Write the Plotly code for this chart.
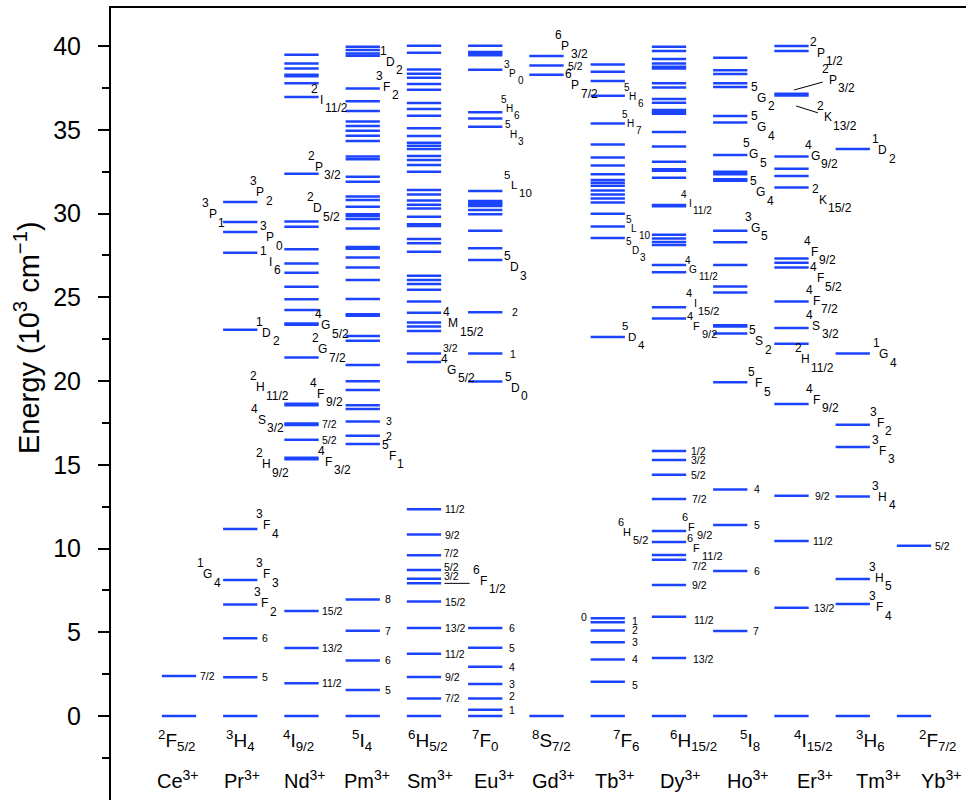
import plotly.graph_objects as go

# ---------------- data ----------------
ions = ["Ce", "Pr", "Nd", "Pm", "Sm", "Eu", "Gd", "Tb", "Dy", "Ho", "Er", "Tm", "Yb"]
ground_terms = [("2", "F", "5/2"), ("3", "H", "4"), ("4", "I", "9/2"), ("5", "I", "4"),
                ("6", "H", "5/2"), ("7", "F", "0"), ("8", "S", "7/2"), ("7", "F", "6"),
                ("6", "H", "15/2"), ("5", "I", "8"), ("4", "I", "15/2"), ("3", "H", "6"),
                ("2", "F", "7/2")]

# energy levels (10^3 cm^-1)
ce = [0, 2.39]
pr = [0, 2.31, 4.64, 6.65, 8.12, 11.16, 23.06, 27.66, 28.9, 29.49, 30.69]
nd = [0, 1.95, 4.06, 6.27, 15.33, 15.42, 16.49, 17.38, 17.46, 18.56, 18.64, 21.41,
      23.36, 23.44, 24.24, 24.88, 25.63, 26.47, 27.02, 27.86, 29.21, 29.53, 32.38,
      36.96, 37.77, 38.2, 38.28, 38.66, 38.96, 39.48]
pm = [0, 1.55, 3.32, 5.09, 6.96, 16.24, 16.73, 17.59, 18.33, 18.55, 19.46, 19.98,
      20.96, 22.41, 22.69, 23.9, 23.98, 24.9, 26.03, 26.77, 27.38, 27.9, 28.0, 29.1,
      29.67, 29.85, 29.95, 30.41, 30.81, 31.02, 31.9, 32.2, 33.24, 33.4, 34.33, 34.65,
      34.94, 35.22, 35.5, 36.12, 36.7, 37.46, 39.42, 39.56, 39.76, 39.96]
sm = [0, 1.05, 2.33, 3.72, 5.25, 6.83, 7.92, 8.2, 8.72, 9.6, 10.83, 12.34, 21.14,
      21.64, 22.99, 23.25, 23.5, 24.08, 24.74, 25.45, 25.79, 26.03, 26.29, 27.72,
      28.22, 28.48, 29.26, 29.36, 29.81, 30.3, 30.53, 30.77, 31.14, 31.4, 32.5, 32.9,
      33.19, 33.43, 33.85, 34.05, 34.23, 34.63, 35.09, 35.84, 36.24, 36.6, 37.39,
      37.73, 38.1, 38.35, 38.6, 39.6, 40.02]
eu = [0, 0.38, 1.05, 1.91, 2.94, 4.08, 5.25, 19.97, 21.64, 24.11, 27.22, 27.92,
      28.97, 29.95, 30.21, 30.45, 30.55, 30.65, 30.75, 31.34, 35.18, 35.68, 36.04,
      38.58, 39.45, 39.55, 39.65, 40.02]
gd = [0, 38.29, 38.83, 39.4]
tb = [0, 2.05, 3.38, 4.4, 5.11, 5.59, 5.83, 22.63, 28.54, 29.23, 29.99, 30.66, 30.9,
      31.14, 31.38, 31.66, 31.84, 32.0, 32.34, 32.87, 33.35, 34.12, 35.37, 37.03,
      37.91, 38.47, 38.9]
dy = [0, 3.46, 5.93, 7.82, 9.33, 9.61, 10.39, 11.04, 12.96, 14.41, 15.28, 15.82,
      23.73, 24.4, 26.49, 26.93, 28.12, 28.3, 28.51, 28.73, 30.43, 30.51, 32.14,
      32.55, 32.65, 33.09, 34.0, 34.87, 35.95, 36.05, 36.18, 36.62, 36.84, 37.53,
      37.77, 38.66, 38.76, 38.96, 39.22, 39.7, 39.96]
ho = [0, 5.07, 8.66, 11.4, 13.53, 19.92, 22.83, 23.25, 23.33, 25.28, 25.65, 26.93,
      28.28, 28.97, 31.95, 32.05, 32.35, 32.5, 33.49, 35.43, 35.82, 37.55, 37.77,
      38.33, 38.55, 39.3]
er = [0, 6.47, 10.45, 13.15, 18.63, 22.23, 23.16, 24.75, 26.78, 27.06, 27.32, 31.56,
      32.24, 32.67, 33.4, 37.05, 37.15, 39.7, 40.0]
tm = [0, 6.69, 8.18, 13.1, 16.06, 17.39, 21.64, 33.85]
yb = [0, 10.17]

levels = [ce, pr, nd, pm, sm, eu, gd, tb, dy, ho, er, tm, yb]

# term labels: (ion index, level energy, multiplicity, L, J)  + placement (dx, dy px, size)
term_labels = [
    (1, 8.12, "1", "G", "4", -49.5, -6, 12),
    (1, 8.12, "3", "F", "3", 9.5, -6, 12),
    (1, 6.65, "3", "F", "2", 7, -1.3, 12),
    (1, 11.16, "3", "F", "4", 9.5, -4, 12),
    (1, 23.06, "1", "D", "2", 9.5, 3, 12),
    (1, 27.66, "1", "I", "6", 13, 9, 12),
    (1, 28.9, "3", "P", "0", 13, 5.3, 12),
    (1, 29.49, "3", "P", "1", -44.5, -8, 12),
    (1, 30.69, "3", "P", "2", 3, -9.7, 12),
    (2, 15.36, "2", "H", "9/2", -52.5, 5.3, 12),
    (2, 17.41, "4", "S", "3/2", -56.8, -4.4, 12),
    (2, 18.6, "2", "H", "11/2", -58.5, -17, 12),
    (2, 15.36, "4", "F", "3/2", 9.8, 3, 12),
    (2, 18.6, "4", "F", "9/2", 2.2, -10.5, 12),
    (2, 21.41, "2", "G", "7/2", 4.2, -8, 12),
    (2, 23.4, "4", "G", "5/2", 7.2, 1, 12),
    (2, 29.53, "2", "D", "5/2", -1.2, -13, 12),
    (2, 32.38, "2", "P", "3/2", 0, -7, 12),
    (2, 36.96, "2", "I", "11/2", 3.2, 3, 12),
    (3, 16.24, "5", "F", "1", 12.3, 11.7, 12),
    (3, 37.46, "3", "F", "2", 7, -2, 12),
    (3, 39.96, "1", "D", "2", 10.3, 15, 12),
    (4, 7.92, "6", "F", "1/2", 42.3, -2.6, 12),
    (4, 21.14, "4", "G", "5/2", 10.7, 8, 12),
    (4, 23.25, "4", "M", "15/2", 12.3, -3.3, 12),
    (5, 19.97, "5", "D", "0", 12.7, 6, 12),
    (5, 27.22, "5", "D", "3", 11.7, 7, 12),
    (5, 31.34, "5", "L", "10", 11.7, -6, 11.5),
    (5, 36.04, "5", "H", "6", 7, -4, 10),
    (5, 35.18, "5", "H", "3", 11, 7.3, 10),
    (5, 38.58, "3", "P", "0", 10.4, 3.5, 10),
    (6, 39.4, "6", "P", "3/2", 1.5, -10.3, 12),
    (6, 38.29, "6", "P", "7/2", 11.5, 10.4, 12),
    (7, 22.63, "5", "D", "4", 7, 0, 11.5),
    (7, 28.54, "5", "D", "3", 10.3, 12.7, 10),
    (7, 29.23, "5", "L", "10", 9.6, 1.9, 10),
    (7, 35.37, "5", "H", "7", 6, 0, 10),
    (7, 37.03, "5", "H", "6", 8, 1, 10),
    (8, 11.04, "6", "F", "9/2", 5.7, -3.8, 11),
    (8, 10.39, "6", "F", "11/2", 10.7, 6.3, 11),
    (8, 11.04, "6", "H", "5/2", -58.7, 1.2, 11),
    (8, 23.73, "4", "F", "9/2", 10.7, 7.5, 11),
    (8, 24.4, "4", "I", "15/2", 9, -4.6, 11),
    (8, 26.93, "4", "G", "11/2", 7.3, 4.4, 10),
    (8, 30.47, "4", "I", "11/2", 4, -2.3, 10),
    (9, 19.92, "5", "F", "5", 11, 1, 12),
    (9, 22.83, "5", "S", "2", 12, 7.4, 12),
    (9, 28.97, "3", "G", "5", 7.7, -3.1, 12),
    (9, 32.0, "5", "G", "4", 13.5, 12.3, 12),
    (9, 33.49, "5", "G", "5", 6, -0.8, 12),
    (9, 35.82, "5", "G", "4", 14.5, 11.3, 12),
    (9, 37.55, "5", "G", "2", 14.5, 10.7, 12),
    (10, 18.63, "4", "F", "9/2", 8.2, -4, 12),
    (10, 22.23, "2", "H", "11/2", -3.5, 15.6, 12),
    (10, 23.16, "4", "S", "3/2", 7.5, -2.1, 12),
    (10, 24.75, "4", "F", "7/2", 7.5, -0.7, 12),
    (10, 26.78, "4", "F", "5/2", 11.5, 10.9, 12),
    (10, 27.32, "4", "F", "9/2", 5.5, -6.7, 12),
    (10, 31.56, "2", "K", "15/2", 14.2, 12.6, 12),
    (10, 33.4, "4", "G", "9/2", 6.5, -0.8, 12),
    (10, 37.1, "2", "K", "13/2", 19.2, 22.7, 12),
    (10, 37.1, "2", "P", "3/2", 24.2, -14.6, 12),
    (10, 39.7, "2", "P", "1/2", 12.2, 1.7, 12),
    (11, 6.69, "3", "F", "4", 9.5, 3.3, 12),
    (11, 8.18, "3", "H", "5", 9.5, -1.3, 12),
    (11, 13.1, "3", "H", "4", 13, 0, 12),
    (11, 16.06, "3", "F", "3", 13, 3.7, 12),
    (11, 17.39, "3", "F", "2", 10.3, -2, 12),
    (11, 21.64, "1", "G", "4", 13.5, 0.8, 12),
    (11, 33.85, "1", "D", "2", 13, 1, 12),
]

# J-value labels: (ion index, level energy, text) + placement (dx, dy px)
j_labels = [
    (0, 2.39, "7/2", 1.5, 0),
    (1, 2.31, "5", 3, 0), (1, 4.64, "6", 3, 0),
    (2, 1.95, "11/2", 1.5, 0), (2, 4.06, "13/2", 1.5, 0), (2, 6.27, "15/2", 1.5, 0),
    (2, 16.49, "5/2", 1.5, 0), (2, 17.41, "7/2", 1.5, 0),
    (3, 1.55, "5", 3, 0), (3, 3.32, "6", 3, 0), (3, 5.09, "7", 3, 0), (3, 6.96, "8", 3, 0),
    (3, 16.73, "2", 4, 0), (3, 17.59, "3", 4, 0),
    (4, 1.05, "7/2", 2, 0), (4, 2.33, "9/2", 2, 0), (4, 3.72, "11/2", 2, 0),
    (4, 5.25, "13/2", 2, 0), (4, 6.83, "15/2", 2, 0), (4, 8.2, "3/2", 1, -3),
    (4, 8.72, "5/2", 1, -3), (4, 9.6, "7/2", 1, -2), (4, 10.83, "9/2", 2, 0),
    (4, 12.34, "11/2", 2, 0), (4, 21.64, "3/2", 0, -6),
    (5, 0.38, "1", 5, 0), (5, 1.05, "2", 5, -2), (5, 1.91, "3", 5, 0), (5, 2.94, "4", 5, 0),
    (5, 4.08, "5", 5, 0), (5, 5.25, "6", 5, 0), (5, 21.64, "1", 6, 0), (5, 24.11, "2", 8, 0),
    (6, 38.83, "5/2", 2, 0),
    (7, 5.83, "0", -46, -1), (7, 5.59, "1", 5, -1), (7, 5.11, "2", 5, 0), (7, 4.4, "3", 5, 0),
    (7, 3.38, "4", 5, 0), (7, 2.05, "5", 5, 3),
    (8, 15.82, "1/2", 2.5, 0), (8, 15.28, "3/2", 2.5, 0), (8, 14.41, "5/2", 3, 0),
    (8, 12.96, "7/2", 4, 0), (8, 9.33, "7/2", 4, 6), (8, 7.82, "9/2", 4, 0),
    (8, 5.93, "11/2", 6, 3), (8, 3.46, "13/2", 5, 1),
    (9, 13.53, "4", 5, 0), (9, 11.4, "5", 4.5, 0), (9, 8.66, "6", 4.5, 0), (9, 5.07, "7", 4, 0),
    (10, 13.15, "9/2", 4, 0), (10, 10.45, "11/2", 2, 0), (10, 6.47, "13/2", 3, 0),
    (12, 10.17, "5/2", 2, 0),
]

# pointer lines (ion, level, start dx,dy, end dx,dy in px from the level's right end)
pointers = [
    (4, 7.92, 3.3, 0, 30, 0),
    (10, 37.1, -14.5, -4.6, 15.5, -12.9),
    (10, 37.1, -12.5, 11.4, 10.8, 18.7),
]

# ---------------- style ----------------
HW = 0.28
BLUE = "rgb(28,68,255)"
FONT = "Liberation Sans, Arial, sans-serif"
ground_shift = [-2, 0, -2.5, -1, 4, 0, 5.5, 18, 25, 20, 21.5, 18, 24]
name_shift = [-1, 1.5, 3.5, 4, 6, 8.5, 7.5, 7, 11, 17.5, 23.5, 26, 27]
letter_hw = {"F": 3.7, "P": 4.0, "G": 4.7, "H": 4.3, "I": 1.7, "D": 4.3, "S": 4.0,
             "L": 3.3, "K": 4.0, "M": 5.0}

fig = go.Figure()
for i, lv in enumerate(levels):
    xs, ys = [], []
    for e in lv:
        xs += [i - HW, i + HW, None]
        ys += [e, e, None]
    fig.add_trace(go.Scatter(x=xs, y=ys, mode="lines", line=dict(color=BLUE, width=2.5),
                             hoverinfo="skip", showlegend=False))

ann = []
for (i, e, m, L, J, dx, dyy, size) in term_labels:
    s = size / 12.0
    xr = i + HW
    ann.append(dict(x=xr, y=e, xshift=dx, yshift=-dyy, text=L, showarrow=False,
                    xanchor="center", yanchor="middle", font=dict(size=size)))
    ann.append(dict(x=xr, y=e, xshift=dx - 7 * s, yshift=-dyy + 11 * s, text=m,
                    showarrow=False, xanchor="center", yanchor="middle",
                    font=dict(size=size)))
    ann.append(dict(x=xr, y=e, xshift=dx + letter_hw.get(L, 4) * s - 0.5,
                    yshift=-dyy - 8.5 * s, text=J, showarrow=False,
                    xanchor="left", yanchor="middle", font=dict(size=size)))

for (i, e, t, dx, dyy) in j_labels:
    ann.append(dict(x=i + HW, y=e, xshift=dx, yshift=-dyy, text=t, showarrow=False,
                    xanchor="left", yanchor="middle", font=dict(size=10.5)))

for (i, e, x0, y0, x1, y1) in pointers:
    ann.append(dict(x=i + HW, y=e, xshift=x0, yshift=-y0, text="", showarrow=True,
                    arrowhead=0, arrowwidth=1, arrowcolor="black",
                    ax=x1 - x0, ay=y1 - y0, standoff=0))

for i, (m, L, J) in enumerate(ground_terms):
    ann.append(dict(x=i, y=0, yshift=-24, xshift=ground_shift[i],
                    text=f"<sup>{m}</sup>{L}<sub>{J}</sub>", showarrow=False,
                    xanchor="center", yanchor="middle", font=dict(size=19)))
    ann.append(dict(x=i, y=0, yshift=-63, xshift=name_shift[i],
                    text=f"{ions[i]}<sup>3+</sup>", showarrow=False,
                    xanchor="center", yanchor="middle", font=dict(size=20)))

ann.append(dict(xref="paper", yref="paper", x=(27 - 111) / 855.0, y=(800 - 338) / 792.0,
                text="Energy (10<sup>3</sup> cm<sup>\u22121</sup>)", textangle=-90,
                showarrow=False, xanchor="center", yanchor="middle", font=dict(size=29)))

fig.update_layout(
    width=966, height=800,
    margin=dict(l=111, r=0, t=8, b=0),
    plot_bgcolor="white", paper_bgcolor="white",
    font=dict(family=FONT, color="black"),
    showlegend=False,
    annotations=ann,
)
fig.update_xaxes(range=[-1.110, 12.849], side="top", showline=True, linecolor="black",
                 linewidth=2, showticklabels=False, ticks="", showgrid=False,
                 zeroline=False, fixedrange=True)
fig.update_yaxes(range=[-5.015, 42.27], showline=True, linecolor="black", linewidth=2,
                 ticks="outside", ticklen=11, tickwidth=2, tickcolor="black",
                 tickvals=[0, 5, 10, 15, 20, 25, 30, 35, 40],
                 tickfont=dict(size=25, family=FONT, color="black"),
                 ticklabelstandoff=12,
                 minor=dict(ticks="outside", ticklen=7, tickwidth=2, tickcolor="black",
                            tickvals=[-2.5, 2.5, 7.5, 12.5, 17.5, 22.5, 27.5, 32.5, 37.5]),
                 showgrid=False, zeroline=False, fixedrange=True)

fig.write_html("out.html")
